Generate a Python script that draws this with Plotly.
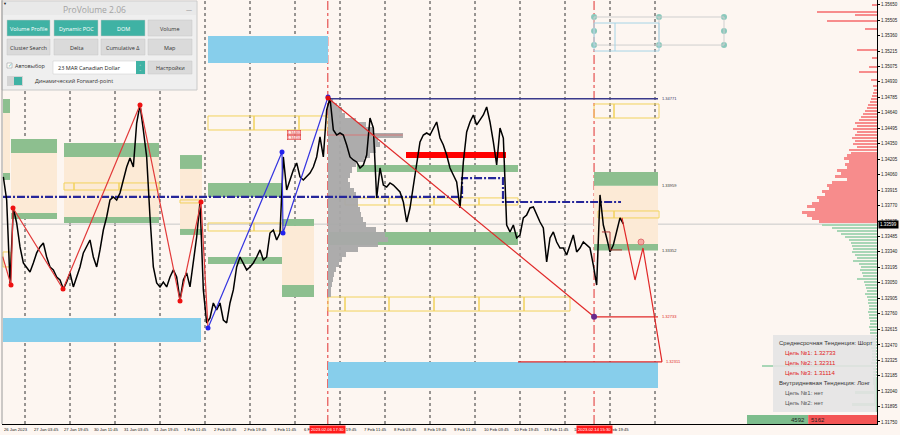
import numpy as np
import plotly.graph_objects as go

# ---------------- data ----------------
# time axis: trading hours counted from 27 Jan 2023 00:00 (weekends removed)
t_start = -11.556
t_step = 16 / 9
close = [1.34040,1.33825,1.33049,1.33750,1.33610,1.33386,1.33236,1.33199,1.33152,1.33236,
 1.33330,1.33386,1.33423,1.33292,1.33199,1.33171,1.33105,1.33077,1.32993,1.33058,
 1.33143,1.33012,1.33105,1.33199,1.33330,1.33386,1.33451,1.33292,1.33199,1.33358,
 1.33544,1.33666,1.33825,1.33853,1.33825,1.33890,1.34012,1.34133,1.34217,1.34133,
 1.34544,1.34713,1.34479,1.34227,1.33666,1.33199,1.33049,1.33012,1.33058,1.33012,
 1.33105,1.33171,1.33105,1.32890,1.33077,1.33143,1.33012,1.33236,1.33479,1.33806,
 1.32984,1.32675,1.32722,1.32862,1.32797,1.32862,1.32703,1.32675,1.32862,1.32984,
 1.33199,1.33292,1.33236,1.33171,1.33199,1.33236,1.33292,1.33358,1.33264,1.33292,
 1.33516,1.33544,1.33451,1.33516,1.34227,1.33918,1.34012,1.34105,1.34171,1.34040,
 1.34012,1.34040,1.34077,1.34133,1.34227,1.34414,1.34227,1.34666,
 1.34778,1.34479,1.34432,1.34451,1.34432,1.34339,1.34227,1.34199,1.34180,1.34124,
 1.34152,1.34245,1.34591,1.34498,1.33844,1.34124,1.33965,1.33946,1.33984,1.33965,
 1.33937,1.33900,1.33806,1.33619,1.33750,1.33965,1.34180,1.34367,1.34432,1.34451,
 1.34432,1.34498,1.34554,1.34404,1.34339,1.34245,1.34124,1.34058,1.33993,1.33750,
 1.34180,1.34460,1.34554,1.34619,1.34526,1.34573,1.34619,1.34694,1.34554,1.34367,
 1.34152,1.34498,1.34404,1.33591,1.33526,1.33591,1.33470,1.33498,1.33657,1.33685,
 1.33750,1.33759,1.33685,1.33619,1.33563,1.33245,1.33470,1.33526,1.33432,1.33376,
 1.33376,1.33311,1.33404,1.33498,1.33339,1.33376,1.33432,1.33404,1.33376,1.33217,
 1.33030,1.33872,1.33591,1.33470,1.33339,1.33404,1.33526,1.33657,1.33601]
times = t_start + np.arange(len(close)) * t_step
last_price = 1.33599

x_tick_hours = [3.75 + 16 * k for k in range(20)]
x_tick_text = ["27 Jan 03:45","27 Jan 19:45","30 Jan 11:45","31 Jan 03:45","31 Jan 19:45",
               "1 Feb 11:45","2 Feb 03:45","2 Feb 19:45","3 Feb 11:45","6 Feb 03:45",
               "6 Feb 19:45","7 Feb 11:45","8 Feb 03:45","8 Feb 19:45","9 Feb 11:45",
               "10 Feb 03:45","10 Feb 19:45","13 Feb 11:45","14 Feb 03:45","14 Feb 19:45"]
day_separators = [24 * k for k in range(15)]
event_times = [161.5, 303.5]
event_labels = ["2023.02.06 17:30", "2023.02.14 15:30"]

y_tick_vals = [1.35650,1.35505,1.35360,1.35215,1.35075,1.34930,1.34785,1.34640,1.34495,1.34350,
               1.34205,1.34060,1.33915,1.33770,1.33625,1.33485,1.33340,1.33195,1.33050,1.32905,
               1.32760,1.32615,1.32470,1.32325,1.32185,1.32040,1.31895,1.31750]

# zones: (t0, t1, top, bottom)
green_zones = [(-11.73,-8.0,1.34769,1.34638),(-11.73,-8.0,1.34077,1.34012),
               (-7.47,17.07,1.34395,1.34264),(-7.47,17.07,1.33703,1.33647),
               (20.8,71.47,1.34357,1.34227),(20.8,71.47,1.33666,1.33610),
               (82.67,94.4,1.34245,1.34115),(82.67,94.4,1.33554,1.33498),
               (97.6,137.07,1.33984,1.33853),(97.6,137.07,1.33292,1.33227),
               (137.07,154.13,1.33647,1.33582),(137.07,154.13,1.33030,1.32918),
               (161.6,262.93,1.33526,1.33404),(177.07,262.93,1.34152,1.34087),
               (303.5,337.6,1.34087,1.33959),(303.5,337.6,1.33414,1.33352)]
peach_zones = [(-11.73,-8.0,1.34638,1.34077),(-7.47,17.07,1.34264,1.33703),
               (20.8,71.47,1.34227,1.33666),(82.67,94.4,1.34115,1.33554),
               (137.07,154.13,1.33582,1.33030),(303.5,337.6,1.33959,1.33414)]
blue_zones = [(-11.73,93.87,1.32722,1.32498),(97.6,161.6,1.35358,1.35105),
              (161.6,337.6,1.32311,1.32068)]
yellow_boxes = [(-11.73,-8.0,1.33339,1.33199),
    (20.8,26.13,1.33984,1.33918),(26.13,50.13,1.33984,1.33918),(50.13,71.47,1.33984,1.33918),
    (82.67,94.4,1.33825,1.33797),
    (97.6,122.13,1.34610,1.34479),(122.13,146.13,1.34610,1.34479),(146.13,161.6,1.34610,1.34479),
    (97.6,122.13,1.33610,1.33535),(122.13,137.07,1.33610,1.33535),
    (161.6,170.67,1.32918,1.32787),(170.67,194.13,1.32918,1.32787),(194.13,218.13,1.32918,1.32787),
    (218.13,242.13,1.32918,1.32787),(242.13,266.13,1.32918,1.32787),(266.13,290.67,1.32918,1.32787),
    (170.67,194.13,1.33844,1.33778),(194.13,218.13,1.33844,1.33778),(218.13,242.13,1.33844,1.33778),
    (242.13,262.93,1.33844,1.33778),
    (303.5,314.13,1.34722,1.34591),(314.13,338.13,1.34722,1.34591),
    (305.6,314.13,1.33722,1.33657),(314.13,338.13,1.33722,1.33657)]
red_bar_zone = (203.2, 256.53, 1.34273, 1.34217)
small_price_tags = [(139.7, 1.34460, "1.34460"), (139.7, 1.34410, "1.34410")]

# zigzags
red_zz_t = [-11.9, -7.47, -6.4, 20.27, 61.33, 82.67, 93.87, 97.6]
red_zz_p = [1.33295, 1.33030, 1.33750, 1.32993, 1.34713, 1.32881, 1.33806, 1.32629]
blue_zz_t = [97.6, 137.07, 137.6, 161.6]
blue_zz_p = [1.32629, 1.34273, 1.33516, 1.34787]

# levels & projections
trend_t = [161.6, 303.5]
trend_p = [1.34778, 1.32733]
resist_level, resist_t = 1.34771, [161.6, 337.6]
target1, target1_t = 1.32733, [303.5, 337.6]
target2, target2_t = 1.32311, [262.93, 339.73]
forecast_t = [318.4, 325.33, 329.6, 339.73]
forecast_p = [1.33657, 1.33077, 1.33376, 1.32311]
fc_small_t = [307.7, 312.0, 312.0, 318.4]
fc_small_p = [1.33526, 1.33526, 1.33358, 1.33358]
poc_dash_t = [-11.73, 233.07, 233.07, 254.93, 254.93, 317.87]
poc_dash_p = [1.33853, 1.33853, 1.34030, 1.34030, 1.33806, 1.33806]
level_labels = [(1.34771, "1.34771", "#333366"), (1.33959, "1.33959", "#333333"),
                (1.33352, "1.33352", "#333333"), (1.32733, "1.32733", "#e02020"),
                (1.32311, "1.32311", "#e02020")]

# session volume profile (gray) starting at 6 Feb 17:30
vp_start = 161.5
vp_levels = np.round(1.34759 - 0.000467 * np.arange(40), 5)
vp_vol = [5,9,14,17,28,38,45,75,50,52,48,42,36,28,24,22,20,22,26,28,
          30,30,32,33,35,38,48,57,60,50,30,18,14,11,8,6,5,4,3,3]
vp_poc = 1.34432

# right-hand full profile
rp_right = 454.4
rp_red_levels = np.round(1.34853 - 0.00028 * np.arange(45), 5)
rp_red_vol = [3,4,5,6,7,9,10,12,14,16,18,22,20,24,20,22,25,22,24,20,28,26,30,33,28,32,30,40,36,42,
              30,45,50,48,55,52,60,58,65,70,62,75,70,65,58]
rp_red_top_levels = [1.35647,1.35579,1.35554,1.35498,1.35423,1.35227,1.35152,1.35068,1.35021,1.34946,1.34890]
rp_red_top_vol = [5,60,22,50,12,20,5,8,18,6,4]
rp_green_levels = np.round(1.33591 - 0.00028 * np.arange(63), 5)
rp_green_vol = [55,45,40,36,32,28,26,25,24,25,22,20,24,18,16,17,15,14,20,13,
                12,11,10,12,10,9,9,8,8,9,8,8,7,7,8,7,7,6,6,6,
                8,6,5,5,5,5,6,115,4,4,4,4,4,4,3,3,22,3,3,3,25,2,2]
vol_scale = 1 / 1.875
buy_volume, sell_volume = 4592, 5162

# top-right drawing objects
tr_dots_t = [303.5, 303.5, 303.5, 338.13, 338.13, 372.8, 372.8, 372.8]
tr_dots_p = [1.35535, 1.35404, 1.35273, 1.35535, 1.35273, 1.35535, 1.35404, 1.35273]

# ---------------- figure ----------------
BG = "#fdf6f1"
X_RANGE = [-12.27, 454.4]
Y_RANGE = [1.31731, 1.35694]
fig = go.Figure()
shapes = []
annos = []

def zrect(z, fill, line=None, lw=0, layer="below"):
    shapes.append(dict(type="rect", xref="x", yref="y", x0=z[0], x1=z[1], y0=z[3], y1=z[2],
                       fillcolor=fill, line=dict(color=line or fill, width=lw), layer=layer))

for z in peach_zones:
    zrect(z, "#fcead6")
for z in green_zones:
    zrect(z, "#8dbf8f")
for z in blue_zones:
    zrect(z, "#87ceeb")
for z in yellow_boxes:
    shapes.append(dict(type="rect", xref="x", yref="y", x0=z[0], x1=z[1], y0=z[3], y1=z[2],
                       fillcolor="rgba(0,0,0,0)", line=dict(color="#f2d25c", width=1), layer="below"))
zrect(red_bar_zone, "#ff0000")

# day separators and event lines
for d in day_separators:
    shapes.append(dict(type="line", xref="x", yref="paper", x0=d, x1=d, y0=0, y1=1,
                       line=dict(color="#333333", width=1, dash="dot"), layer="below"))
for e in event_times:
    shapes.append(dict(type="line", xref="x", yref="paper", x0=e, x1=e, y0=0, y1=1,
                       line=dict(color="#e03030", width=1, dash="dashdot"), layer="below"))
# current price line
shapes.append(dict(type="line", xref="paper", yref="y", x0=0, x1=1, y0=last_price, y1=last_price,
                   line=dict(color="#c8c8c8", width=1), layer="below"))

# gray session profile
fig.add_trace(go.Bar(y=vp_levels, x=np.array(vp_vol) * vol_scale, base=vp_start, orientation="h",
                     width=0.00047, marker=dict(color="#a9a9a9", line=dict(width=0)), opacity=0.95))
# right profile
rv = np.array(rp_red_vol) * vol_scale
fig.add_trace(go.Bar(y=rp_red_levels, x=rv, base=rp_right - rv, orientation="h", width=0.00026,
                     marker=dict(color="#f78c8c", line=dict(width=0))))
rtv = np.array(rp_red_top_vol) * vol_scale
fig.add_trace(go.Bar(y=rp_red_top_levels, x=rtv, base=rp_right - rtv, orientation="h", width=0.00011,
                     marker=dict(color="#f78c8c", line=dict(width=0))))
gv = np.array(rp_green_vol) * vol_scale
fig.add_trace(go.Bar(y=rp_green_levels, x=gv, base=rp_right - gv, orientation="h", width=0.00024,
                     marker=dict(color="#a8d6b6", line=dict(width=0))))

# POC line of session profile
fig.add_trace(go.Scatter(x=[vp_start, vp_start + max(vp_vol) * vol_scale], y=[vp_poc, vp_poc],
                         mode="lines", line=dict(color="#c98a8a", width=1.5)))
# navy dash-dot level
fig.add_trace(go.Scatter(x=poc_dash_t, y=poc_dash_p, mode="lines",
                         line=dict(color="#26269a", width=2.2, dash="8px,2px,2px,2px")))
# resistance level
fig.add_trace(go.Scatter(x=resist_t, y=[resist_level] * 2, mode="lines",
                         line=dict(color="#3a3a8c", width=1.5)))
# price
fig.add_trace(go.Scatter(x=times, y=close, mode="lines", line=dict(color="#000000", width=1.5)))
# zigzags
fig.add_trace(go.Scatter(x=red_zz_t, y=red_zz_p, mode="lines", line=dict(color="#e23a3a", width=1.2)))
fig.add_trace(go.Scatter(x=red_zz_t[1:-1], y=red_zz_p[1:-1], mode="markers",
                         marker=dict(color="#ee1111", size=5)))
fig.add_trace(go.Scatter(x=blue_zz_t, y=blue_zz_p, mode="lines+markers", line=dict(color="#3535e0", width=1.2),
                         marker=dict(color="#2222ee", size=5)))
# trend & targets
fig.add_trace(go.Scatter(x=trend_t, y=trend_p, mode="lines", line=dict(color="#e02828", width=1.2)))
fig.add_trace(go.Scatter(x=target1_t, y=[target1] * 2, mode="lines", line=dict(color="#e02828", width=1.2)))
fig.add_trace(go.Scatter(x=target2_t, y=[target2] * 2, mode="lines", line=dict(color="#e02828", width=1.2)))
fig.add_trace(go.Scatter(x=forecast_t, y=forecast_p, mode="lines", line=dict(color="#e02828", width=1.2)))
fig.add_trace(go.Scatter(x=fc_small_t, y=fc_small_p, mode="lines", line=dict(color="#a83232", width=1)))
fig.add_trace(go.Scatter(x=[328.53], y=[1.33432], mode="markers",
                         marker=dict(color="rgba(240,128,128,0.6)", size=6, line=dict(color="#e07070", width=1))))
fig.add_trace(go.Scatter(x=[trend_t[0]], y=[trend_p[0]], mode="markers", marker=dict(color="#e01010", size=5)))
fig.add_trace(go.Scatter(x=[trend_t[1]], y=[trend_p[1]], mode="markers", marker=dict(color="#6a2a8c", size=6)))

# top-right objects
shapes.append(dict(type="rect", xref="x", yref="y", x0=303.5, x1=372.8, y0=1.35273, y1=1.35535,
                   line=dict(color="#cfcfcf", width=1), fillcolor="rgba(0,0,0,0)"))
shapes.append(dict(type="line", xref="x", yref="y", x0=338.13, x1=338.13, y0=1.35273, y1=1.35535,
                   line=dict(color="#cfcfcf", width=1)))
shapes.append(dict(type="rect", xref="x", yref="y", x0=303.5, x1=338.13, y0=1.35217, y1=1.35479,
                   line=dict(color="#a6d4e6", width=1), fillcolor="rgba(0,0,0,0)"))
shapes.append(dict(type="line", xref="x", yref="y", x0=314.67, x1=314.67, y0=1.35217, y1=1.35479,
                   line=dict(color="#a6d4e6", width=1)))
fig.add_trace(go.Scatter(x=tr_dots_t, y=tr_dots_p, mode="markers", marker=dict(color="#8cc8bc", size=6)))

# small red price tags
for t, p, txt in small_price_tags:
    annos.append(dict(x=t, y=p, xref="x", yref="y", text=txt, showarrow=False, xanchor="left",
                      bgcolor="rgba(255,235,235,0.9)", bordercolor="#e03030", borderwidth=0.6, borderpad=0,
                      font=dict(size=3.5, color="#e03030", family="Liberation Sans")))

# level labels
for p, txt, col in level_labels:
    annos.append(dict(x=338.9 if p != target2 else 340.6, y=p, xref="x", yref="y", text=txt, showarrow=False,
                      xanchor="left", font=dict(size=4, color=col, family="Liberation Sans")))

# x tick labels
AX_FONT = dict(size=4.2, color="#222", family="Liberation Sans")
annos.append(dict(x=X_RANGE[0], y=0, xref="x", yref="paper", text="26 Jan 2023", showarrow=False,
                  xanchor="left", yanchor="top", yshift=-1, font=AX_FONT))
for h, txt in zip(x_tick_hours, x_tick_text):
    annos.append(dict(x=h, y=0, xref="x", yref="paper", text=txt, showarrow=False,
                      xanchor="left", yanchor="top", yshift=-1, font=AX_FONT))
for e, txt in zip(event_times, event_labels):
    annos.append(dict(x=e, y=0, xref="x", yref="paper", text=txt, showarrow=False, xanchor="center",
                      yanchor="top", yshift=-1, bgcolor="#ff1a1a", borderpad=1,
                      font=dict(size=4.2, color="white", family="Liberation Sans")))
# current price tag
annos.append(dict(x=1, y=last_price, xref="paper", yref="y", text=f"{last_price:.5f}", showarrow=False,
                  xanchor="left", xshift=1, bgcolor="#000000", borderpad=1,
                  font=dict(size=4.5, color="white", family="Liberation Sans")))

# ---------- UI overlays in paper coords ----------
W, H = 875.0, 424.0
def PX(px): return (px - 2) / W
def PY(py): return (H - py) / H

def ui_rect(x0, y0, x1, y1, fill, line="rgba(0,0,0,0)", lw=0):
    shapes.append(dict(type="rect", xref="paper", yref="paper", x0=PX(x0), x1=PX(x1), y0=PY(y1), y1=PY(y0),
                       fillcolor=fill, line=dict(color=line, width=lw), layer="above"))

def ui_text(x, y, txt, size, color, anchor="center", family="Open Sans"):
    annos.append(dict(x=PX(x), y=PY(y), xref="paper", yref="paper", text=txt, showarrow=False,
                      xanchor=anchor, yanchor="middle", font=dict(size=size, color=color, family=family)))

# bottom-right info box
ui_rect(773, 335, 876, 412, "rgba(228,228,228,0.88)")
ui_text(777, 343, "Среднесрочная Тенденция: Шорт", 6, "#333333", "left", "Liberation Sans")
ui_text(783, 353, "Цель №1: 1.32733", 6, "#e02020", "left", "Liberation Sans")
ui_text(783, 362.5, "Цель №2: 1.32311", 6, "#e02020", "left", "Liberation Sans")
ui_text(783, 372.5, "Цель №3: 1.31114", 6, "#e02020", "left", "Liberation Sans")
ui_text(777, 383, "Внутридневная Тенденция: Лонг", 6, "#333333", "left", "Liberation Sans")
ui_text(783, 393, "Цель №1: нет", 6, "#555555", "left", "Liberation Sans")
ui_text(783, 403, "Цель №2: нет", 6, "#555555", "left", "Liberation Sans")
# buy/sell volume bar
tot_px = 130.0
bw = buy_volume / (buy_volume + sell_volume) * tot_px
ui_rect(747, 415, 747 + bw, 424, "#7dbd8d")
ui_rect(747 + bw, 415, 877, 424, "#f45555")
ui_text(747 + bw - 1, 419.5, str(buy_volume), 6, "#222222", "right", "Liberation Sans")
ui_text(747 + bw + 1, 419.5, str(sell_volume), 6, "#222222", "left", "Liberation Sans")

# top-left ProVolume panel
ui_rect(2, 1, 197, 90, "#efefef", "#c9c9c9", 1)
ui_rect(3, 2, 196, 15, "#e9e9e9")
ui_text(94, 9, "ProVolume 2.06", 8.5, "#a3a3a3")
ui_text(189, 10, "—", 6, "#777777")
ui_text(5, 3.5, "▼", 4, "#222222")
teal = "#3fb2a4"
gray = "#dadada"
buttons = [(7, 20, 50, 36, "Volume Profile", teal, "white"), (54, 20, 98, 36, "Dynamic POC", teal, "white"),
           (101, 20, 145, 36, "DOM", teal, "white"), (148, 20, 192, 36, "Volume", gray, "#333333"),
           (7, 39, 50, 55, "Cluster Search", gray, "#333333"), (54, 39, 98, 55, "Delta", gray, "#333333"),
           (101, 39, 145, 55, "Cumulative Δ", gray, "#333333"), (148, 39, 192, 55, "Map", gray, "#333333")]
for x0, y0, x1, y1, txt, fc, tc in buttons:
    ui_rect(x0, y0, x1, y1, fc, "#c4c4c4", 0.5)
    ui_text((x0 + x1) / 2, (y0 + y1) / 2 + 0.5, txt, 5.5, tc)
ui_rect(7, 63, 12, 68, "white", "#888888", 0.5)
ui_text(9.5, 64.5, "✓", 5, teal)
ui_text(13, 66.5, "Автовыбор", 5.5, "#333333", "left")
ui_rect(53, 61, 145, 74, "white", "#c8c8c8", 0.5)
ui_rect(136, 61, 145, 74, teal)
ui_text(140.5, 67.5, "⌃<br>⌄", 3, "white")
ui_text(56, 67.5, "23 MAR Canadian Dollar", 5.5, "#222222", "left")
ui_rect(148, 61, 192, 74, gray, "#c4c4c4", 0.5)
ui_text(170, 67.5, "Настройки", 5.5, "#333333")
ui_rect(7, 76, 23, 86, "#d4d4d4")
ui_rect(14, 77, 22, 85, teal)
ui_text(33, 81, "Динамический Forward-point", 5.5, "#333333", "left")
# left border
shapes.append(dict(type="line", xref="paper", yref="paper", x0=0, x1=0, y0=0, y1=1,
                   line=dict(color="#9a9a9a", width=1)))

fig.update_layout(
    width=900, height=435, margin=dict(l=2, r=23, t=0, b=11),
    plot_bgcolor=BG, paper_bgcolor=BG, showlegend=False, barmode="overlay", bargap=0,
    shapes=shapes, annotations=annos,
    xaxis=dict(range=X_RANGE, showgrid=False, zeroline=False, showticklabels=False, showline=True,
               linecolor="#000000", linewidth=1, ticks="", fixedrange=True),
    yaxis=dict(range=Y_RANGE, side="right", tickvals=y_tick_vals, ticktext=[f"{v:.5f}" for v in y_tick_vals],
               tickfont=dict(size=4.5, color="#222", family="Liberation Sans"), ticks="outside", ticklen=2,
               tickcolor="#000", showgrid=False, zeroline=False, showline=True, linecolor="#000000",
               linewidth=1, automargin=False),
)
fig.write_html("out.html", config={"displayModeBar": False},
               post_script="document.body.style.margin='0px';document.body.style.padding='0px';document.body.style.background='" + BG + "';")
